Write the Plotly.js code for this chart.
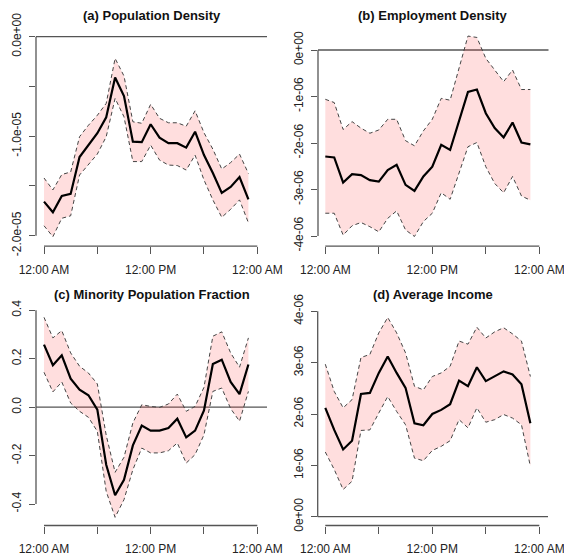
<!DOCTYPE html>
<html>
<head>
<meta charset="utf-8">
<script src="https://cdn.plot.ly/plotly-3.0.1.min.js"></script>
<style>html,body{margin:0;padding:0;background:#fff}#chart{width:564px;height:556px}</style>
</head>
<body>
<div id="chart"></div>
<script>
// ---------- DATA ----------
const hours = [0,1,2,3,4,5,6,7,8,9,10,11,12,13,14,15,16,17,18,19,20,21,22,23];
const xTickVals = [0, 6, 12, 18, 24];
const xTickText = ["12:00 AM", "", "12:00 PM", "", "12:00 AM"];

const titles = ["(a) Population Density", "(b) Employment Density",
                "(c) Minority Population Fraction", "(d) Average Income"];

// (a) Population Density
const popMean  = [-16.58e-6,-17.65e-6,-16.0e-6,-15.8e-6,-12.1e-6,-10.9e-6,-9.7e-6,-8.1e-6,-4.1e-6,-5.96e-6,-10.55e-6,-10.6e-6,-8.8e-6,-10.15e-6,-10.7e-6,-10.7e-6,-11.15e-6,-9.55e-6,-11.9e-6,-13.7e-6,-15.7e-6,-15.1e-6,-14.1e-6,-16.35e-6];
const popUpper = [-14.2e-6,-15.4e-6,-13.85e-6,-13.6e-6,-10.05e-6,-8.9e-6,-7.9e-6,-6.7e-6,-2.18e-6,-3.95e-6,-8.55e-6,-8.7e-6,-6.8e-6,-8.2e-6,-8.65e-6,-8.65e-6,-9.0e-6,-7.45e-6,-9.65e-6,-11.3e-6,-13.3e-6,-12.65e-6,-11.8e-6,-13.75e-6];
const popLower = [-19.0e-6,-20.1e-6,-18.25e-6,-18.0e-6,-13.9e-6,-12.9e-6,-11.8e-6,-10.05e-6,-6.2e-6,-8.05e-6,-12.55e-6,-12.55e-6,-10.9e-6,-12.4e-6,-12.9e-6,-12.95e-6,-13.4e-6,-11.9e-6,-14.4e-6,-16.4e-6,-18.15e-6,-17.35e-6,-16.4e-6,-18.7e-6];
const popTickVals = [0, -5e-6, -1e-5, -1.5e-5, -2e-5];
const popTickText = ["0.0e+00", "", "-1.0e-05", "", "-2.0e-05"];

// (b) Employment Density
const empMean  = [-2.29e-6,-2.31e-6,-2.85e-6,-2.67e-6,-2.69e-6,-2.80e-6,-2.83e-6,-2.58e-6,-2.47e-6,-2.90e-6,-3.03e-6,-2.72e-6,-2.51e-6,-2.04e-6,-2.15e-6,-1.51e-6,-0.90e-6,-0.85e-6,-1.36e-6,-1.68e-6,-1.88e-6,-1.56e-6,-1.99e-6,-2.03e-6];
const empUpper = [-1.06e-6,-1.13e-6,-1.71e-6,-1.54e-6,-1.68e-6,-1.79e-6,-1.72e-6,-1.49e-6,-1.49e-6,-1.95e-6,-2.06e-6,-1.74e-6,-1.49e-6,-1.04e-6,-1.08e-6,-0.36e-6,0.30e-6,0.27e-6,-0.18e-6,-0.43e-6,-0.68e-6,-0.43e-6,-0.85e-6,-0.85e-6];
const empLower = [-3.51e-6,-3.51e-6,-3.98e-6,-3.78e-6,-3.71e-6,-3.80e-6,-3.91e-6,-3.62e-6,-3.46e-6,-3.87e-6,-4.01e-6,-3.69e-6,-3.51e-6,-3.07e-6,-3.21e-6,-2.62e-6,-2.08e-6,-1.99e-6,-2.51e-6,-2.87e-6,-3.07e-6,-2.72e-6,-3.14e-6,-3.23e-6];
const empTickVals = [0, -1e-6, -2e-6, -3e-6, -4e-6];
const empTickText = ["0e+00", "-1e-06", "-2e-06", "-3e-06", "-4e-06"];

// (c) Minority Population Fraction
const minMean  = [0.258,0.173,0.214,0.118,0.072,0.049,-0.010,-0.238,-0.364,-0.300,-0.158,-0.076,-0.097,-0.097,-0.086,-0.048,-0.125,-0.097,-0.014,0.178,0.196,0.104,0.054,0.176];
const minUpper = [0.371,0.286,0.316,0.224,0.169,0.141,0.096,-0.116,-0.269,-0.207,-0.065,0.010,0.003,-0.001,0.013,0.054,-0.017,0.003,0.082,0.293,0.311,0.224,0.165,0.286];
const minLower = [0.144,0.063,0.104,0.017,-0.017,-0.042,-0.100,-0.348,-0.455,-0.382,-0.258,-0.169,-0.189,-0.189,-0.180,-0.148,-0.231,-0.196,-0.114,0.065,0.079,-0.006,-0.058,0.065];
const minTickVals = [0.4, 0.2, 0.0, -0.2, -0.4];
const minTickText = ["0.4", "0.2", "0.0", "-0.2", "-0.4"];

// (d) Average Income
const incMean  = [2.12e-6,1.69e-6,1.31e-6,1.48e-6,2.39e-6,2.41e-6,2.80e-6,3.12e-6,2.80e-6,2.51e-6,1.82e-6,1.78e-6,2.00e-6,2.08e-6,2.19e-6,2.65e-6,2.54e-6,2.91e-6,2.64e-6,2.73e-6,2.83e-6,2.77e-6,2.58e-6,1.82e-6];
const incUpper = [2.97e-6,2.44e-6,2.12e-6,2.28e-6,3.10e-6,3.16e-6,3.58e-6,3.88e-6,3.58e-6,3.19e-6,2.54e-6,2.47e-6,2.73e-6,2.80e-6,2.93e-6,3.42e-6,3.36e-6,3.69e-6,3.48e-6,3.60e-6,3.68e-6,3.56e-6,3.42e-6,2.73e-6];
const incLower = [1.26e-6,0.92e-6,0.53e-6,0.69e-6,1.68e-6,1.69e-6,2.02e-6,2.34e-6,2.05e-6,1.79e-6,1.14e-6,1.09e-6,1.29e-6,1.37e-6,1.48e-6,1.89e-6,1.73e-6,2.12e-6,1.84e-6,1.89e-6,1.99e-6,1.92e-6,1.79e-6,0.98e-6];
const incTickVals = [4e-6, 3e-6, 2e-6, 1e-6, 0];
const incTickText = ["4e-06", "3e-06", "2e-06", "1e-06", "0e+00"];

const refValue = 0;

// ---------- LAYOUT HELPERS ----------
const W = 564, H = 556;
const FONT = "Liberation Sans, Arial, Helvetica, sans-serif";
const AXC = "#555";

// pixel calibration of each panel (layout, not data)
const panels = [
  {mean: popMean, up: popUpper, lo: popLower, tv: popTickVals, tt: popTickText,
   xc: {p0: 44, p24: 257.3, d0: 36, d1: 267},
   yc: {vT: 0, pT: 36.7, vB: -2e-5, pB: 235.7, dT: 24, dB: 246.2}, titleY: 15},
  {mean: empMean, up: empUpper, lo: empLower, tv: empTickVals, tt: empTickText,
   xc: {p0: 325.3, p24: 539.3, d0: 318, d1: 548.5},
   yc: {vT: 0, pT: 50, vB: -4e-6, pB: 236, dT: 28, dB: 246.2}, titleY: 15},
  {mean: minMean, up: minUpper, lo: minLower, tv: minTickVals, tt: minTickText,
   xc: {p0: 44, p24: 257.3, d0: 36, d1: 267},
   yc: {vT: 0.4, pT: 310.3, vB: -0.4, pB: 504, dT: 300, dB: 525.5}, titleY: 294.5},
  {mean: incMean, up: incUpper, lo: incLower, tv: incTickVals, tt: incTickText,
   xc: {p0: 325.3, p24: 539.3, d0: 317.7, d1: 548},
   yc: {vT: 4e-6, pT: 311.3, vB: 0, pB: 516.7, dT: 300, dB: 525.5}, titleY: 294.5}
];

const data = [];
const layout = {
  width: W, height: H,
  margin: {l: 0, r: 0, t: 0, b: 0},
  paper_bgcolor: "#fff", plot_bgcolor: "rgba(0,0,0,0)",
  showlegend: false,
  font: {family: FONT, size: 12, color: "#222"},
  annotations: [], shapes: []
};

panels.forEach((p, i) => {
  const n = i + 1;
  const xa = "x" + (n === 1 ? "" : n), ya = "y" + (n === 1 ? "" : n);
  const xk = "xaxis" + (n === 1 ? "" : n), yk = "yaxis" + (n === 1 ? "" : n);
  const xs = (p.xc.p24 - p.xc.p0) / 24;
  const xr = [0 - (p.xc.p0 - p.xc.d0) / xs, 24 + (p.xc.d1 - p.xc.p24) / xs];
  const ys = (p.yc.pB - p.yc.pT) / (p.yc.vT - p.yc.vB);
  const yr = [p.yc.vB - (p.yc.dB - p.yc.pB) / ys, p.yc.vT + (p.yc.pT - p.yc.dT) / ys];

  layout[xk] = {
    domain: [p.xc.d0 / W, p.xc.d1 / W], range: xr, anchor: ya,
    showgrid: false, zeroline: false, showline: false,
    ticks: "outside", ticklen: 7, tickwidth: 1, tickcolor: AXC,
    tickvals: xTickVals, ticktext: xTickText, ticklabelstandoff: 5,
    ticklabeloverflow: "allow",
    tickfont: {family: FONT, size: 12, color: "#222"}, fixedrange: true
  };
  layout[yk] = {
    domain: [1 - p.yc.dB / H, 1 - p.yc.dT / H], range: yr, anchor: xa,
    showgrid: false, zeroline: false, showline: false,
    ticks: "outside", ticklen: 6, tickwidth: 1, tickcolor: AXC,
    tickvals: p.tv, ticktext: p.tt, tickangle: -90, ticklabelstandoff: 3,
    ticklabeloverflow: "allow",
    tickfont: {family: FONT, size: 12, color: "#222"}, fixedrange: true
  };

  data.push({x: hours, y: p.lo, xaxis: xa, yaxis: ya, type: "scatter", mode: "lines",
             line: {color: "#444", width: 1, dash: "4px,3px"}, hoverinfo: "skip"});
  data.push({x: hours, y: p.up, xaxis: xa, yaxis: ya, type: "scatter", mode: "lines",
             fill: "tonexty", fillcolor: "rgba(255,60,60,0.17)",
             line: {color: "#444", width: 1, dash: "4px,3px"}, hoverinfo: "skip"});
  data.push({x: hours, y: p.mean, xaxis: xa, yaxis: ya, type: "scatter", mode: "lines",
             line: {color: "#000", width: 2.2}, hoverinfo: "skip"});

  // reference line at 0 across plot region
  layout.shapes.push({type: "line", xref: xa + " domain", x0: 0, x1: 1, yref: ya,
                      y0: refValue, y1: refValue, line: {color: AXC, width: 1.3}, layer: "below"});
  // R-style axis lines spanning first to last tick
  layout.shapes.push({type: "line", xref: xa + " domain", x0: 0, x1: 0, yref: ya,
                      y0: Math.min(...p.tv), y1: Math.max(...p.tv), line: {color: AXC, width: 1.3}});
  layout.shapes.push({type: "line", xref: xa, x0: Math.min(...xTickVals), x1: Math.max(...xTickVals),
                      yref: ya + " domain", y0: 0, y1: 0, line: {color: AXC, width: 1.3}});

  layout.annotations.push({text: "<b>" + titles[i] + "</b>", xref: "paper", yref: "paper",
    x: (p.xc.d0 + p.xc.d1) / 2 / W, y: 1 - p.titleY / H, xanchor: "center", yanchor: "middle",
    showarrow: false, font: {family: FONT, size: 13, color: "#111"}});
});

Plotly.newPlot("chart", data, layout, {displayModeBar: false, staticPlot: true});
</script>
</body>
</html>
